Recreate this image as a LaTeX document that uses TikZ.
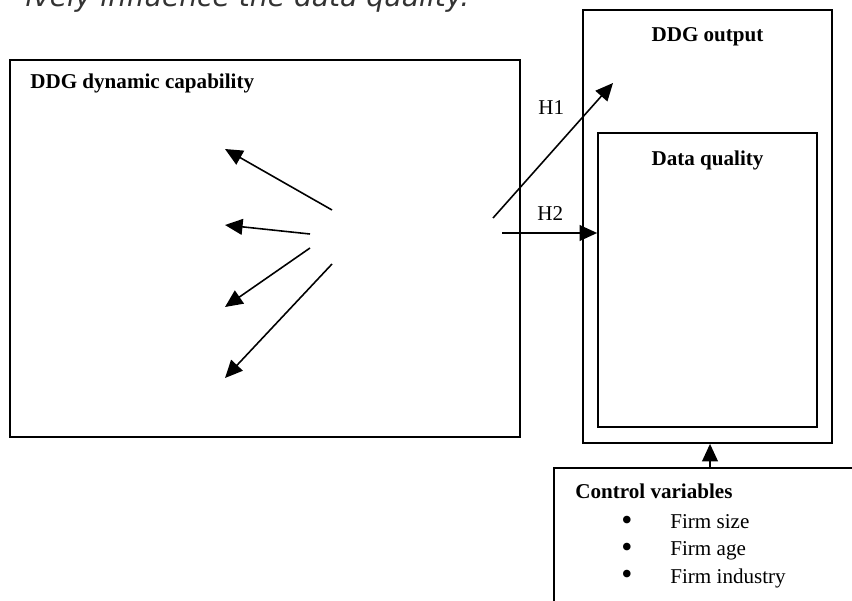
\documentclass[tikz,border=0pt]{standalone}
\usepackage{fontspec}
\setmainfont{Liberation Serif}
\newfontfamily\notefont{DejaVu Sans}
\usetikzlibrary{arrows.meta}
\definecolor{ink}{HTML}{000000}
\definecolor{note}{HTML}{333333}

\begin{document}
\begin{tikzpicture}[
  font=\fontsize{12}{14}\selectfont,
  >={Triangle[length=10pt,width=9pt]},
  arrow/.style={->,line width=0.9pt,draw=ink},
  frame/.style={draw=ink,line width=1pt,inner sep=0pt},
  head/.style={font=\fontsize{12}{14}\selectfont\bfseries,text=ink,inner sep=0pt},
  hyp/.style={text=ink,inner sep=0pt},
  listitem/.style={text=ink,inner sep=0pt,anchor=base west},
  dots/.style={text=ink,inner sep=0pt,anchor=base,align=center,
               font=\fontsize{18}{15.5}\selectfont}
]
\useasboundingbox (0,0) rectangle (17.04,12.0);

% Caption line cut at the top edge
\node[anchor=base west,inner sep=0pt,text=note,
      font=\notefont\fontsize{16}{19}\selectfont\itshape] (note) at (0.5,11.86)
  {ively influence the data quality.};

% Frames
\node[frame,minimum width=10.2cm,minimum height=7.54cm] (cap) at (5.3,7.03) {};
\node[frame,minimum width=4.98cm,minimum height=8.66cm] (out) at (14.15,7.47) {};
\node[frame,minimum width=4.38cm,minimum height=5.88cm] (qual) at (14.15,6.4) {};
\node[frame,minimum width=6.24cm,minimum height=3.04cm] (ctrl) at (14.2,1.12) {};

% Headings
\node[head,anchor=base west] (capttl) at (0.6,10.22) {DDG dynamic capability};
\node[head,anchor=base] (outttl) at (14.15,11.16) {DDG output};
\node[head,anchor=base] (qualttl) at (14.15,8.7) {Data quality};
\node[head,anchor=base west] (ctrlttl) at (11.5,2.04) {Control variables};

% Control list
\node[dots] (bullets) at (12.54,0.31) {\textbullet\\\textbullet\\\textbullet};
\node[listitem] (i1) at (13.4,1.44) {Firm size};
\node[listitem] (i2) at (13.4,0.90) {Firm age};
\node[listitem] (i3) at (13.4,0.34) {Firm industry};

% Hypotheses
\node[hyp,anchor=base west] (h1) at (10.76,9.70) {H1};
\node[hyp,anchor=base west] (h2) at (10.74,7.60) {H2};

% Arrow ends
\coordinate (f1s) at (6.64,7.80); \coordinate (f1e) at (4.50,9.02);
\coordinate (f2s) at (6.20,7.32); \coordinate (f2e) at (4.50,7.50);
\coordinate (f3s) at (6.20,7.04); \coordinate (f3e) at (4.50,5.86);
\coordinate (f4s) at (6.64,6.72); \coordinate (f4e) at (4.50,4.44);
\coordinate (h1s) at (9.86,7.64); \coordinate (h1e) at (12.26,10.34);
\coordinate (h2s) at (10.04,7.34);

% Fan inside the capability frame
\draw[arrow] (f1s) -- (f1e);
\draw[arrow] (f2s) -- (f2e);
\draw[arrow] (f3s) -- (f3e);
\draw[arrow] (f4s) -- (f4e);

% H1 and H2
\draw[arrow] (h1s) -- (h1e);
\draw[arrow] (h2s) -- (h2s -| qual.west);

% Controls into output
\draw[arrow] (ctrl.north) -- (ctrl.north |- out.south);

\end{tikzpicture}
\end{document}
